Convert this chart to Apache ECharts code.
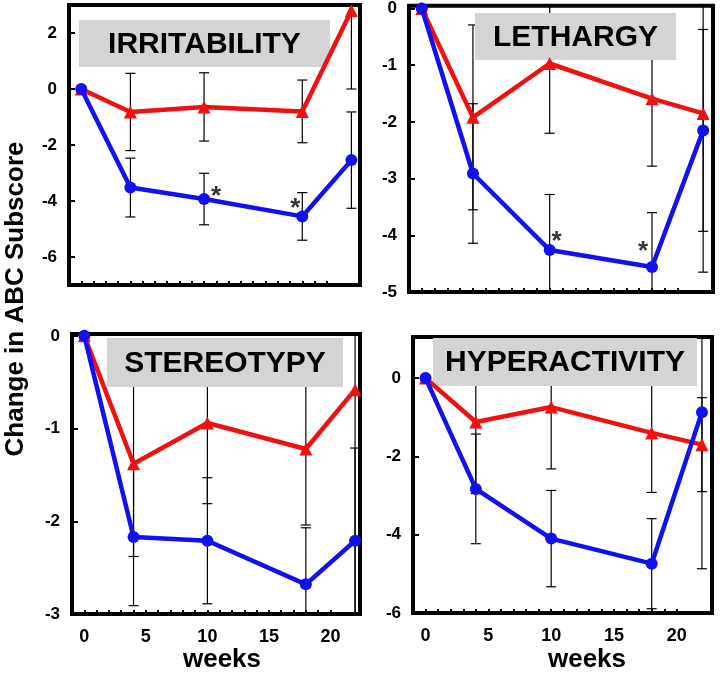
<!DOCTYPE html>
<html>
<head>
<meta charset="utf-8">
<script src="https://cdn.jsdelivr.net/npm/echarts@6/dist/echarts.min.js"></script>
<style>
html,body{margin:0;padding:0;background:#fff;}
#chart{width:720px;height:675px;}
</style>
</head>
<body>
<div id="chart"></div>
<script>
// weeks of measurement
var weeks = [0, 4, 10, 18, 22];
var weekTicks = [0,1,2,3,4,5,6,7,8,9,10,11,12,13,14,15,16,17,18,19,20];
var weekLabels = [0, 5, 10, 15, 20];

// IRRITABILITY
var irrRed = [0, -0.82, -0.64, -0.8, 2.8];
var irrRedErr = [0, 1.38, 1.22, 1.12, 2.8];
var irrBlue = [0, -3.52, -3.93, -4.55, -2.54];
var irrBlueErr = [0, 1.05, 0.92, 0.85, 1.72];
var irrTicks = [-6, -4, -2, 0, 2];
var irrStars = [[10, -3.93], [18, -4.55]];

// LETHARGY
var letRed = [0, -1.92, -0.97, -1.59, -1.85];
var letRedErr = [0, 1.63, 1.23, 1.19, 2.8];
var letBlue = [0, -2.91, -4.26, -4.56, -2.15];
var letBlueErr = [0, 1.23, 0.98, 0.96, 1.78];
var letTicks = [-5, -4, -3, -2, -1, 0];
var letStars = [[10, -4.26], [18, -4.56]];

// STEREOTYPY
var steRed = [0, -1.38, -0.94, -1.22, -0.58];
var steRedErr = [0, 1.0, 0.87, 0.82, 2.6];
var steBlue = [0, -2.17, -2.21, -2.68, -2.21];
var steBlueErr = [0, 0.74, 0.68, 0.61, 1.0];
var steTicks = [-3, -2, -1, 0];

// HYPERACTIVITY
var hypRed = [0, -1.12, -0.74, -1.4, -1.7];
var hypRedErr = [0, 1.83, 1.58, 1.52, 1.2];
var hypBlue = [0, -2.83, -4.1, -4.74, -0.87];
var hypBlueErr = [0, 1.4, 1.23, 1.15, 4.0];
var hypTicks = [-6, -4, -2, 0];

var FONT = 'Liberation Sans, Arial, sans-serif';
var RED = '#f01010', BLUE = '#1010f0';

var abcChart = {
	panels: [
		{name:'IRRITABILITY', red:irrRed, redErr:irrRedErr, blue:irrBlue, blueErr:irrBlueErr, ticks:irrTicks,
			stars:irrStars, starOffsets:[[12,-2],[-7,-8]],
			grid:{left:69, top:5, width:291, height:280}, x:[-1, 22.7], y:[-7, 3], bottom:false,
			box:[79, 20, 251, 47]},
		{name:'LETHARGY', red:letRed, redErr:letRedErr, blue:letBlue, blueErr:letBlueErr, ticks:letTicks,
			stars:letStars, starOffsets:[[7,-8],[-9,-15]],
			grid:{left:409, top:5, width:304, height:287}, x:[-1, 22.77], y:[-5, 0.05], bottom:false,
			box:[475, 13, 201, 47]},
		{name:'STEREOTYPY', red:steRed, redErr:steRedErr, blue:steBlue, blueErr:steBlueErr, ticks:steTicks,
			stars:[], starOffsets:[],
			grid:{left:72, top:334, width:288, height:280}, x:[-1, 22.4], y:[-3, 0.02], bottom:true,
			box:[107, 338, 236, 49]},
		{name:'HYPERACTIVITY', red:hypRed, redErr:hypRedErr, blue:hypBlue, blueErr:hypBlueErr, ticks:hypTicks,
			stars:[], starOffsets:[],
			grid:{left:413, top:337, width:299, height:276}, x:[-1, 22.8], y:[-6, 1.05], bottom:true,
			box:[433, 338, 264, 48]}
	],
	/**
	 * error bar drawing, clipped to the plot box
	 */
	renderErr: function(params, api){
		var e = api.value(2);
		if(!e){
			return;
		}
		var x = api.value(0), v = api.value(1);
		var cs = params.coordSys;
		var top = api.coord([x, v + e]), bot = api.coord([x, v - e]);
		var px = top[0], y1 = top[1], y2 = bot[1];
		var ymin = cs.y, ymax = cs.y + cs.height;
		var children = [];
		var st = {stroke:'#000', lineWidth:1.2};
		children.push({type:'line', shape:{x1:px, y1:Math.max(y1, ymin), x2:px, y2:Math.min(y2, ymax)}, style:st});
		if(y1 >= ymin){
			children.push({type:'line', shape:{x1:px-5, y1:y1, x2:px+5, y2:y1}, style:st});
		}
		if(y2 <= ymax){
			children.push({type:'line', shape:{x1:px-5, y1:y2, x2:px+5, y2:y2}, style:st});
		}
		return {type:'group', children:children};
	},
	init: function(){
		var self = this;
		var grids = [], xAxes = [], yAxes = [], series = [], graphics = [];
		self.panels.forEach(function(p, i){
			grids.push({left:p.grid.left, top:p.grid.top, width:p.grid.width, height:p.grid.height,
				show:true, borderColor:'#000', borderWidth:4, backgroundColor:'rgba(0,0,0,0)'});
			xAxes.push({
				gridIndex:i, type:'value', min:p.x[0], max:p.x[1], position:'bottom',
				axisLine:{show:false, onZero:false}, splitLine:{show:false},
				axisTick:{show:true, inside:true, length:4, customValues:weekTicks, lineStyle:{color:'#000', width:2}},
				axisLabel:{show:p.bottom, customValues:weekLabels, margin:14, color:'#000',
					fontSize:18, fontWeight:'bold', fontFamily:FONT}
			});
			yAxes.push({
				gridIndex:i, type:'value', min:p.y[0], max:p.y[1], position:'left',
				axisLine:{show:false, onZero:false}, splitLine:{show:false},
				axisTick:{show:true, inside:true, length:6, customValues:p.ticks, lineStyle:{color:'#000', width:2}},
				axisLabel:{customValues:p.ticks, margin:12, color:'#000',
					fontSize:17, fontWeight:'bold', fontFamily:FONT}
			});
			var mk = function(vals, errs){
				return weeks.map(function(w, j){ return [w, vals[j], errs[j]]; });
			};
			series.push({type:'custom', xAxisIndex:i, yAxisIndex:i, z:2, silent:true,
				renderItem:self.renderErr, data:mk(p.red, p.redErr)});
			series.push({type:'custom', xAxisIndex:i, yAxisIndex:i, z:2, silent:true,
				renderItem:self.renderErr, data:mk(p.blue, p.blueErr)});
			series.push({type:'line', xAxisIndex:i, yAxisIndex:i, z:4,
				data:weeks.map(function(w, j){ return [w, p.red[j]]; }),
				symbol:'triangle', symbolSize:13, showAllSymbol:true,
				lineStyle:{color:RED, width:4.5}, itemStyle:{color:RED}});
			series.push({type:'line', xAxisIndex:i, yAxisIndex:i, z:5,
				data:weeks.map(function(w, j){ return [w, p.blue[j]]; }),
				symbol:'circle', symbolSize:12, showAllSymbol:true,
				lineStyle:{color:BLUE, width:4.5}, itemStyle:{color:BLUE}});
			if(p.stars.length){
				series.push({type:'scatter', xAxisIndex:i, yAxisIndex:i, z:6, silent:true,
					symbolSize:1, itemStyle:{color:'rgba(0,0,0,0)'},
					data:p.stars.map(function(s, j){
						return {value:s, label:{offset:p.starOffsets[j]}};
					}),
					label:{show:true, formatter:'*', position:'inside', color:'#000',
						fontSize:26, fontWeight:'bold', fontFamily:FONT}
				});
			}
			graphics.push({type:'rect', z:3, shape:{x:p.box[0], y:p.box[1], width:p.box[2], height:p.box[3]},
				style:{fill:'#d4d4d4'}});
			graphics.push({type:'text', z:3, x:p.box[0] + p.box[2] / 2, y:p.box[1] + p.box[3] / 2 + 1,
				style:{text:p.name, align:'center', verticalAlign:'middle', fill:'#000',
					font:'bold 30px ' + FONT}});
		});
		graphics.push({type:'text', x:16, y:299, rotation:Math.PI / 2,
			style:{text:'Change in ABC Subscore', align:'center', verticalAlign:'middle', fill:'#000',
				font:'bold 26px ' + FONT}});
		graphics.push({type:'text', x:222, y:660,
			style:{text:'weeks', align:'center', verticalAlign:'middle', fill:'#000', font:'bold 26px ' + FONT}});
		graphics.push({type:'text', x:587, y:660,
			style:{text:'weeks', align:'center', verticalAlign:'middle', fill:'#000', font:'bold 26px ' + FONT}});

		var myChart = echarts.init(document.getElementById('chart'), null, {renderer:'canvas'});
		var option = {
			animation:false,
			backgroundColor:'#fff',
			grid:grids,
			xAxis:xAxes,
			yAxis:yAxes,
			graphic:graphics,
			series:series
		};
		myChart.setOption(option, true);
	}
};
abcChart.init();
</script>
</body>
</html>
